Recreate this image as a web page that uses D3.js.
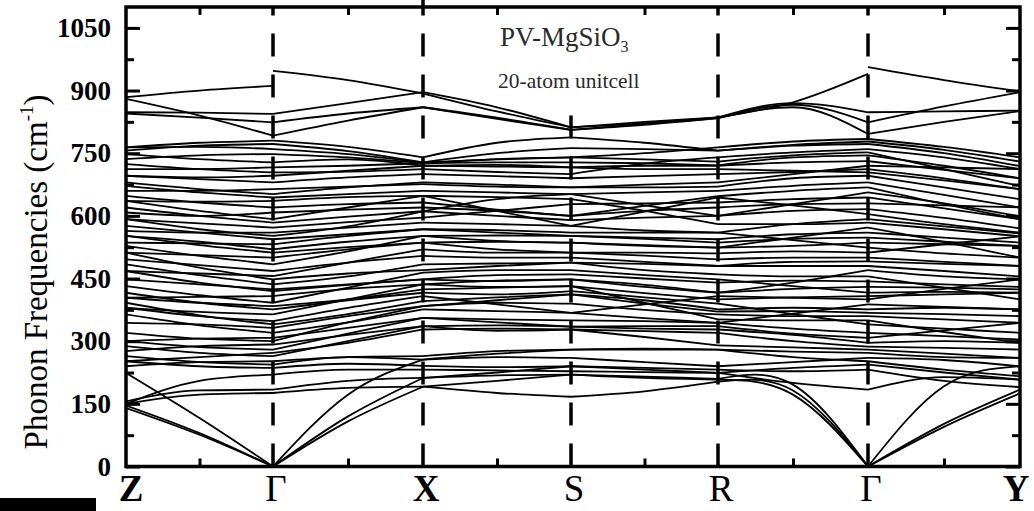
<!DOCTYPE html>
<html><head><meta charset="utf-8">
<script src="https://cdn.jsdelivr.net/npm/d3@7/dist/d3.min.js"></script>
<style>html,body{margin:0;padding:0;background:#fff;} svg{display:block;}</style>
</head><body>
<svg id="chart" width="1034" height="511"></svg>
<script>
// ---------------- data ----------------
const kLabels = ["Z","Γ","X","S","R","Γ","Y"];
const kPos = [0,147,297,445,592,742,894];
const yTickValues = [0,150,300,450,600,750,900,1050];
const yMinorValues = [75,225,375,525,675,825,975];
const titleMain = "PV-MgSiO";
const titleSub = "3";
const subtitle = "20-atom unitcell";
const yTitleMain = "Phonon Frequencies (cm";
const yTitleSup = "-1";

// each entry: [frequency at segment start, at segment middle, at segment end] (cm^-1)
const segZG = [
[140,76,0],[146,80,0],[224,116,0],[150,172,176],[150,205,220],[156,182,184],
[240,250,252],[252,240,236],[252,262,272],[264,250,244],[276,288,292],[288,272,264],
[300,306,308],[300,286,280],[320,306,300],[344,340,332],[364,338,320],[380,370,364],
[380,360,348],[392,362,340],[404,392,384],[404,406,408],[416,392,376],[432,410,392],
[448,436,424],[468,440,420],[468,462,456],[484,458,436],[496,482,468],[512,476,448],
[512,506,500],[528,504,484],[536,534,532],[552,530,512],[552,538,520],[564,560,560],
[576,560,544],[592,582,572],[592,568,552],[608,600,608],[620,600,584],[636,612,592],
[636,634,636],[648,632,620],[660,660,664],[672,656,644],[680,664,652],[696,692,696],
[696,688,680],[712,712,716],[724,712,704],[736,745,748],[748,736,728],[756,768,772],
[764,775,780],[764,765,760],[884,900,911],[880,840,792],[848,847,844],[845,835,824]
];
const segGX = [
[0,108,191],[0,120,212],[0,172,256],[176,188,191],[184,205,212],[220,232,232],
[236,246,241],[244,262,256],[252,262,264],[264,300,336],[272,296,328],[280,318,356],
[292,315,336],[300,345,384],[308,332,356],[320,345,376],[332,360,384],[340,365,396],
[348,380,408],[364,400,436],[376,398,416],[384,400,424],[392,428,464],[408,425,436],
[420,435,448],[424,436,448],[436,455,484],[448,462,470],[456,488,520],[468,488,504],
[484,515,552],[500,520,536],[512,525,536],[520,538,552],[532,552,568],[544,556,568],
[552,575,611],[560,572,584],[572,585,596],[584,598,611],[592,620,648],[608,615,620],
[620,628,632],[636,645,648],[644,652,660],[652,668,680],[664,670,676],[680,692,700],
[696,708,720],[704,706,712],[716,720,726],[728,735,720],[748,740,726],[760,748,728],
[772,755,728],[780,765,740],[947,925,893],[844,870,896],[824,845,860],[792,828,860]
];
const segXS = [
[191,176,167],[191,205,220],[212,218,220],[212,225,240],[232,230,228],[241,238,240],
[256,262,260],[256,270,280],[264,276,280],[328,330,328],[336,325,328],[336,338,335],
[356,345,335],[356,352,350],[376,372,368],[384,398,412],[384,392,390],[396,405,412],
[408,388,368],[416,412,420],[424,428,432],[436,430,432],[436,445,448],[448,444,448],
[448,458,460],[464,470,470],[470,480,488],[484,486,488],[504,500,500],[520,512,512],
[536,520,512],[536,538,536],[552,540,536],[552,553,552],[568,560,552],[568,566,560],
[584,580,576],[596,612,628],[611,600,590],[611,640,652],[620,612,600],[632,615,600],
[648,612,576],[648,645,640],[660,656,652],[676,670,668],[680,675,668],[700,695,690],
[712,705,700],[720,718,716],[720,722,716],[726,728,728],[726,736,740],[728,735,740],
[728,750,762],[740,775,788],[896,860,812],[893,850,812],[860,835,806],[860,832,806]
];
const segSR = [
[167,180,203],[220,212,208],[220,215,210],[228,226,224],[240,232,224],[240,236,232],
[260,250,240],[280,280,280],[280,282,280],[328,310,290],[328,324,320],[335,330,328],
[335,336,336],[350,348,344],[368,355,344],[368,388,408],[390,375,364],[412,390,371],
[412,398,376],[420,405,390],[432,415,400],[432,392,352],[448,430,416],[448,435,416],
[460,450,440],[470,458,448],[488,470,460],[488,485,480],[500,490,480],[512,505,496],
[512,512,510],[536,528,524],[536,530,524],[552,545,536],[552,548,544],[560,560,560],
[576,565,560],[576,610,644],[590,596,600],[600,624,647],[600,612,620],[628,630,632],
[640,612,580],[652,625,600],[652,656,660],[668,668,670],[668,675,680],[690,695,700],
[700,725,740],[716,720,720],[716,712,712],[728,726,721],[740,735,730],[740,750,764],
[762,760,756],[788,775,756],[812,825,836],[812,822,836],[806,820,834],[806,818,834]
];
const segRG = [
[203,182,0],[208,172,0],[210,196,0],[224,200,184],[224,236,244],[232,228,232],
[240,250,260],[280,262,252],[280,275,272],[290,285,280],[320,300,287],[328,315,296],
[336,318,308],[344,330,320],[344,366,388],[352,350,350],[364,360,360],[371,372,368],
[376,380,376],[390,365,340],[400,405,408],[408,404,400],[416,440,470],[416,425,430],
[440,445,443],[448,432,416],[460,455,455],[480,480,480],[480,490,491],[496,500,500],
[510,515,512],[524,528,536],[524,548,572],[536,545,548],[544,556,560],[560,542,524],
[560,580,592],[580,580,584],[600,628,656],[600,612,616],[620,628,630],[632,640,644],
[644,625,604],[647,660,668],[660,672,680],[670,690,696],[680,700,720],[700,705,712],
[712,708,704],[720,728,731],[721,740,745],[730,745,752],[740,752,760],[756,768,772],
[756,770,778],[764,778,784],[836,872,940],[836,870,848],[834,866,824],[834,860,796]
];
const segGY = [
[0,95,175],[0,102,184],[0,192,240],[184,214,208],[232,205,190],[244,225,208],
[252,232,216],[260,255,240],[272,262,260],[280,270,260],[287,284,280],[296,300,296],
[308,326,344],[320,312,304],[340,330,320],[350,322,296],[360,352,344],[368,365,360],
[376,380,376],[388,382,376],[400,425,448],[408,412,416],[416,418,416],[430,428,424],
[443,436,430],[455,428,400],[470,455,448],[480,468,455],[491,485,480],[500,490,480],
[512,532,551],[524,510,500],[536,532,528],[548,538,528],[560,548,536],[572,538,500],
[584,568,551],[592,575,558],[604,580,560],[616,595,570],[630,625,620],[644,618,592],
[656,630,599],[668,628,592],[680,650,620],[696,668,640],[704,685,664],[712,690,664],
[720,716,712],[731,710,690],[745,720,690],[752,712,671],[760,740,712],[772,750,719],
[778,758,730],[784,765,740],[956,925,898],[848,850,852],[824,862,896],[796,825,851]
];
const segments = [segZG, segGX, segXS, segSR, segRG, segGY];

// ---------------- drawing ----------------
const svg = d3.select("#chart");
const L = 126, R = 1020, T = 7, B = 466.5;
const serif = "'Liberation Serif','Times New Roman',serif";
const x = d3.scaleLinear().domain([kPos[0], kPos[kPos.length-1]]).range([L, R]);
const y = d3.scaleLinear().domain([0, 1100]).range([B, T]);

svg.append("defs").append("clipPath").attr("id","plotclip")
  .append("rect").attr("x",L).attr("y",T).attr("width",R-L).attr("height",B-T);

const lineSmooth = d3.line().x(d => x(d[0])).y(d => y(d[1])).curve(d3.curveMonotoneX);
const lineAcoustic = d3.line().x(d => x(d[0])).y(d => y(d[1])).curve(d3.curveNatural);
const bands = svg.append("g").attr("clip-path","url(#plotclip)");
segments.forEach((seg, s) => {
  const x0 = kPos[s], x1 = kPos[s+1], xm = (x0 + x1) / 2;
  bands.selectAll(null).data(seg).enter().append("path")
    .attr("d", t => {
      const pts = [[x0,t[0]],[xm,t[1]],[x1,t[2]]];
      return (t[0] === 0 || t[2] === 0) ? lineAcoustic(pts) : lineSmooth(pts);
    })
    .attr("fill","none").attr("stroke","#000").attr("stroke-width",1.8);
});

// dashed high-symmetry lines (S line stops below the title block)
kPos.slice(1, -1).forEach((k, i) => {
  const lab = kLabels[i+1];
  svg.append("line").attr("x1", x(k)).attr("x2", x(k))
    .attr("y1", B).attr("y2", lab === "X" ? 0 : (lab === "S" ? 108 : T))
    .attr("stroke","#000").attr("stroke-width",3.5).attr("stroke-dasharray","23,18");
});

function styleAxis(g) {
  g.select(".domain").remove();
  g.selectAll(".tick line").attr("stroke","#000").attr("stroke-width",3);
}
// left axis
svg.append("g").attr("transform",`translate(${L},0)`)
  .call(d3.axisLeft(y).tickValues(yTickValues).tickSize(-14).tickPadding(15).tickFormat(d3.format("d")))
  .call(styleAxis)
  .call(g => g.selectAll("text").attr("font-family",serif).attr("font-weight","bold")
      .attr("font-size",27).attr("fill","#000"));
svg.append("g").attr("transform",`translate(${L},0)`)
  .call(d3.axisLeft(y).tickValues(yMinorValues).tickSize(-8).tickFormat(""))
  .call(styleAxis);
// right axis
svg.append("g").attr("transform",`translate(${R},0)`)
  .call(d3.axisRight(y).tickValues(yTickValues).tickSize(-14).tickFormat(""))
  .call(styleAxis);
svg.append("g").attr("transform",`translate(${R},0)`)
  .call(d3.axisRight(y).tickValues(yMinorValues).tickSize(-8).tickFormat(""))
  .call(styleAxis);
// bottom / top minor ticks at segment middles
const mids = d3.pairs(kPos, (a, b) => (a + b) / 2);
svg.append("g").attr("transform",`translate(0,${B})`)
  .call(d3.axisBottom(x).tickValues(mids).tickSize(-8).tickFormat("")).call(styleAxis);
svg.append("g").attr("transform",`translate(0,${T})`)
  .call(d3.axisTop(x).tickValues(mids).tickSize(-8).tickFormat("")).call(styleAxis);

// frame
svg.append("rect").attr("x",L).attr("y",T).attr("width",R-L).attr("height",B-T)
  .attr("fill","none").attr("stroke","#000").attr("stroke-width",3.5);

// k-point labels
const boldLabels = new Set(["Z","X","Y"]);
const labelShift = {0: 5, 6: -4};
svg.append("g").selectAll("text").data(kLabels).enter().append("text")
  .attr("x", (d, i) => x(kPos[i]) + (labelShift[i] !== undefined ? labelShift[i] : 3))
  .attr("y", 501)
  .attr("text-anchor","middle")
  .attr("font-family", serif).attr("font-size", 37)
  .attr("font-weight", d => boldLabels.has(d) ? "bold" : "normal")
  .attr("fill","#000")
  .text(d => d);

// y-axis title
const yt = svg.append("text").attr("transform","translate(47,272) rotate(-90)")
  .attr("text-anchor","middle").attr("font-family",serif).attr("font-size",33).attr("fill","#000");
yt.append("tspan").text(yTitleMain);
yt.append("tspan").attr("font-size",19).attr("dy",-14).text(yTitleSup);
yt.append("tspan").attr("dy",14).text(")");

// title
const tt = svg.append("text").attr("x",500).attr("y",46)
  .attr("font-family",serif).attr("font-size",27).attr("fill","#2a2a2a");
tt.append("tspan").text(titleMain);
tt.append("tspan").attr("font-size",16).attr("dy",6).text(titleSub);
svg.append("text").attr("x",498).attr("y",88)
  .attr("font-family",serif).attr("font-size",21.5).attr("fill","#2a2a2a").text(subtitle);

// black bar bottom-left
svg.append("rect").attr("x",0).attr("y",498).attr("width",96).attr("height",13).attr("fill","#000");
</script>
</body></html>
